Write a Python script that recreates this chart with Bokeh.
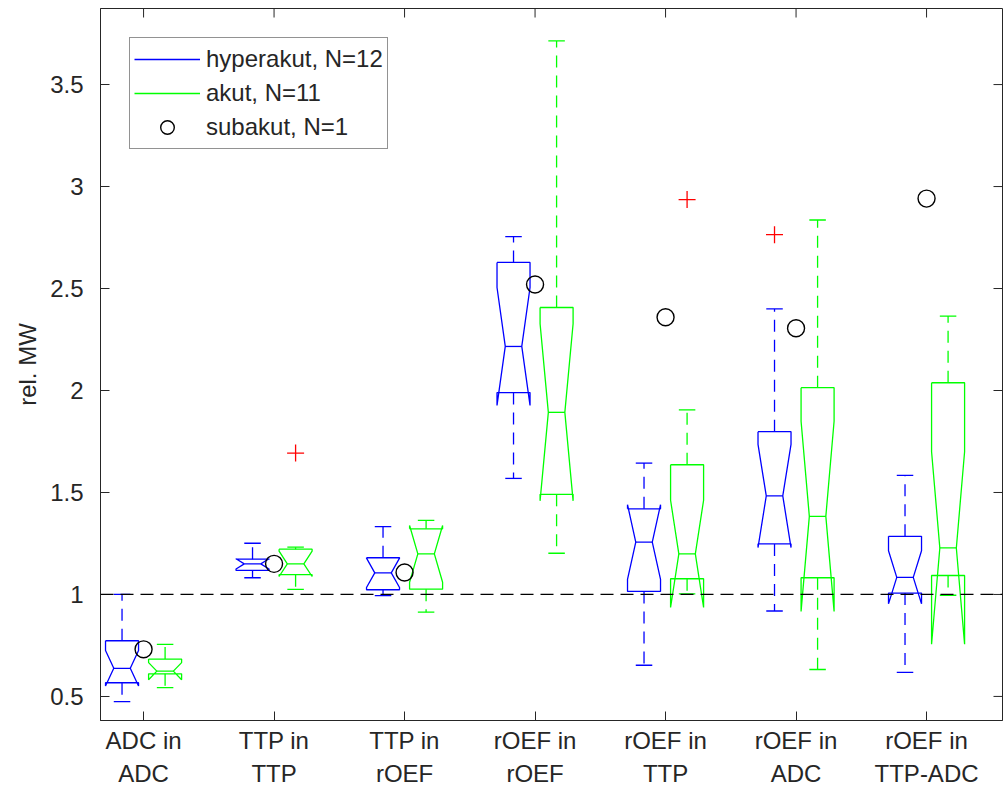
import math
from bokeh.plotting import figure
from bokeh.models import Range1d, FixedTicker, Span, Legend, LegendItem
from bokeh.embed import file_html
from bokeh.resources import INLINE

categories = ["ADC in\nADC", "TTP in\nTTP", "TTP in\nrOEF", "rOEF in\nrOEF",
              "rOEF in\nTTP", "rOEF in\nADC", "rOEF in\nTTP-ADC"]
y_ticks = [0.5, 1, 1.5, 2, 2.5, 3, 3.5]
reference_level = 1.0
x_limits = (0.67, 7.582)
y_limits = (0.382, 3.873)

# hyperakut (blue), N=12
hyper_lo = [0.475, 1.082, 0.994, 1.569, 0.653, 0.919, 0.618]
hyper_q1 = [0.567, 1.118, 1.023, 1.990, 1.015, 1.248, 1.007]
hyper_med = [0.638, 1.150, 1.106, 2.216, 1.257, 1.483, 1.084]
hyper_q3 = [0.773, 1.173, 1.180, 2.628, 1.420, 1.798, 1.285]
hyper_hi = [1.000, 1.251, 1.333, 2.754, 1.644, 2.400, 1.584]
hyper_notch = [0.087, 0.025, 0.072, 0.289, 0.183, 0.253, 0.130]
hyper_out_cat = [6]
hyper_out_val = [2.764]

# akut (green), N=11
akut_lo = [0.543, 1.025, 0.913, 1.202, 1.003, 0.632, 0.996]
akut_q1 = [0.611, 1.097, 1.026, 1.491, 1.077, 1.082, 1.093]
akut_med = [0.624, 1.150, 1.199, 1.893, 1.199, 1.383, 1.228]
akut_q3 = [0.683, 1.222, 1.322, 2.407, 1.636, 2.014, 2.038]
akut_hi = [0.755, 1.232, 1.363, 3.714, 1.905, 2.836, 2.365]
akut_notch = [0.042, 0.062, 0.139, 0.434, 0.263, 0.466, 0.472]
akut_out_cat = [2, 5]
akut_out_val = [1.693, 2.936]

# subakut (circle), N=1
subakut = [0.731, 1.150, 1.108, 2.520, 2.359, 2.305, 2.941]

FONT = "Liberation Sans"
FS = "24px"
AX = "#262626"
BLUE = "#0000FF"
GREEN = "#00FF00"

p = figure(width=1004, height=791, output_backend="svg", toolbar_location=None,
           x_range=Range1d(*x_limits), y_range=Range1d(*y_limits),
           min_border_left=100, min_border_right=2, min_border_top=8,
           min_border_bottom=71)
p.xgrid.visible = False
p.ygrid.visible = False
p.outline_line_color = AX
p.outline_line_width = 1
p.background_fill_color = "white"
p.border_fill_color = "white"

pos = list(range(1, len(categories) + 1))
p.xaxis.ticker = FixedTicker(ticks=pos)
p.xaxis.major_label_overrides = {k: c for k, c in zip(pos, categories)}
p.yaxis.ticker = FixedTicker(ticks=y_ticks)
p.yaxis.major_label_overrides = {t: ("%g" % t) for t in y_ticks}
p.yaxis.axis_label = "rel. MW"

for ax in (p.xaxis[0], p.yaxis[0]):
    ax.axis_line_color = AX
    ax.major_tick_line_color = AX
    ax.major_tick_in = 9
    ax.major_tick_out = 0
    ax.minor_tick_line_color = None
    ax.major_label_text_font = FONT
    ax.major_label_text_font_size = FS
    ax.major_label_text_color = AX
    ax.axis_label_text_font = FONT
    ax.axis_label_text_font_size = FS
    ax.axis_label_text_font_style = "normal"
    ax.axis_label_text_color = AX
p.xaxis.major_label_standoff = 6
p.xaxis.major_label_text_line_height = 1.25
p.yaxis.major_label_standoff = 17
p.yaxis.axis_label_standoff = 6

# inward ticks on the right and top edges of the box (clipped to the frame)
p.scatter([x_limits[1]] * len(y_ticks), y_ticks, marker="dash", size=18,
          line_color=AX, line_width=1)
p.scatter(pos, [y_limits[1]] * len(pos), marker="dash", size=18, angle=math.pi / 2,
          line_color=AX, line_width=1)

p.add_layout(Span(location=reference_level, dimension="width", line_color="black",
                  line_dash="13 7", line_width=1.3))

BW = 0.253
OFF = 0.165


def draw_group(lo, q1, med, q3, hi, notch, offset, color):
    outline_x, outline_y = [], []
    med_x, med_y = [], []
    wx, wy = [], []
    cx, cy = [], []
    for i in range(len(med)):
        x = pos[i] + offset
        L, R = x - BW / 2, x + BW / 2
        nw = BW / 4
        nhi, nlo = med[i] + notch[i], med[i] - notch[i]
        outline_x.append([L, L, L + nw, L, L, R, R, R - nw, R, R, L])
        outline_y.append([q3[i], nhi, med[i], nlo, q1[i], q1[i], nlo, med[i], nhi, q3[i], q3[i]])
        med_x.append([L + nw, R - nw])
        med_y.append([med[i], med[i]])
        wx += [[x, x], [x, x]]
        wy += [[q3[i], hi[i]], [q1[i], lo[i]]]
        cx += [[x - BW / 4, x + BW / 4], [x - BW / 4, x + BW / 4]]
        cy += [[hi[i], hi[i]], [lo[i], lo[i]]]
    p.multi_line(wx, wy, line_color=color, line_width=1.3, line_dash="12 8")
    p.multi_line(cx, cy, line_color=color, line_width=1.3)
    r = p.multi_line(outline_x, outline_y, line_color=color, line_width=1.3)
    p.multi_line(med_x, med_y, line_color=color, line_width=1.3)
    return r


r_blue = draw_group(hyper_lo, hyper_q1, hyper_med, hyper_q3, hyper_hi, hyper_notch, -OFF, BLUE)
r_green = draw_group(akut_lo, akut_q1, akut_med, akut_q3, akut_hi, akut_notch, OFF, GREEN)

p.scatter([c - OFF for c in hyper_out_cat], hyper_out_val, marker="cross", size=17,
          line_color="red", line_width=1.3)
p.scatter([c + OFF for c in akut_out_cat], akut_out_val, marker="cross", size=17,
          line_color="red", line_width=1.3)

r_sub = p.scatter(pos, subakut, marker="circle", size=17, fill_color=None,
                  line_color="black", line_width=1.4)

legend = Legend(items=[LegendItem(label="hyperakut, N=12", renderers=[r_blue]),
                       LegendItem(label="akut, N=11", renderers=[r_green]),
                       LegendItem(label="subakut, N=1", renderers=[r_sub])],
                location="top_left", margin=29, padding=4, spacing=0,
                label_height=34, glyph_height=34, glyph_width=66, label_standoff=6,
                label_text_font=FONT, label_text_font_size=FS, label_text_color=AX,
                border_line_color=AX, border_line_width=1, background_fill_color="white",
                background_fill_alpha=1)
p.add_layout(legend)

open("out.html", "w").write(file_html(p, INLINE))
